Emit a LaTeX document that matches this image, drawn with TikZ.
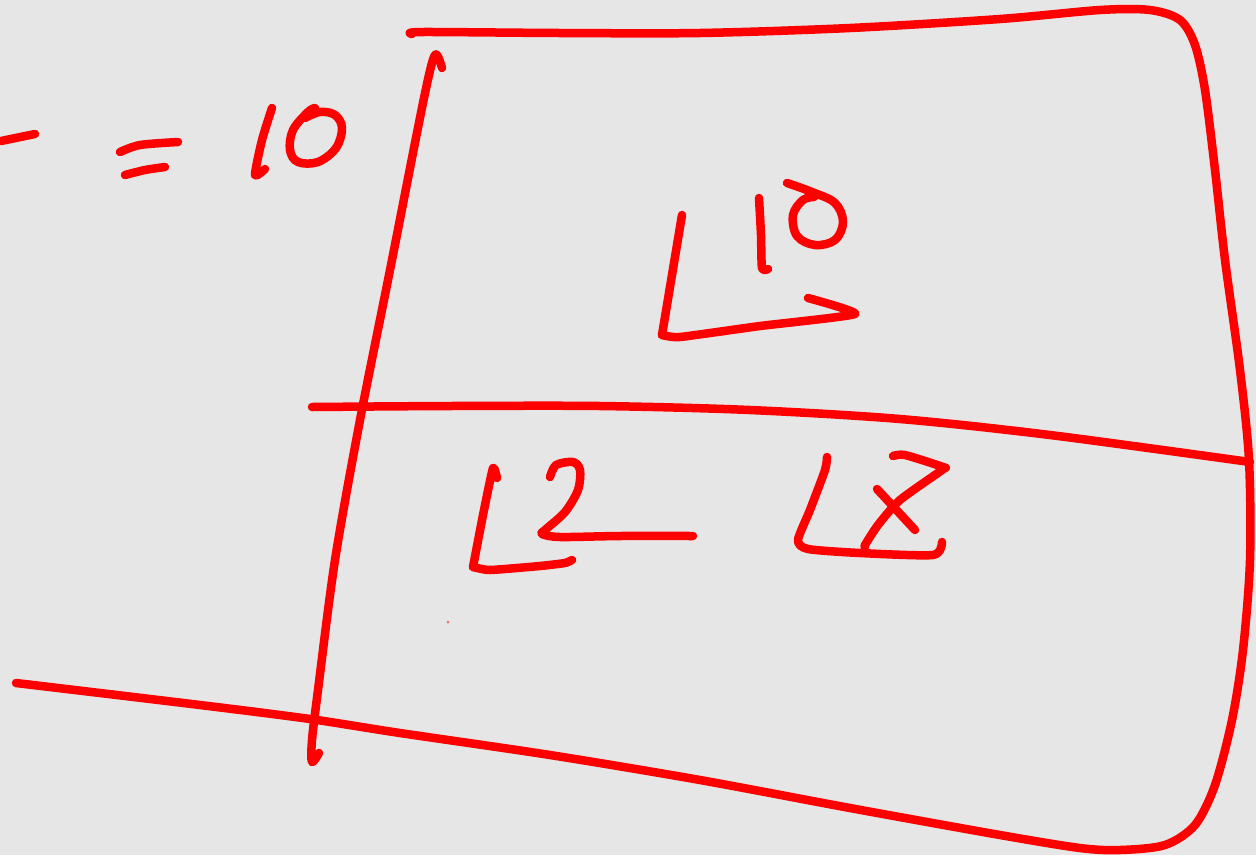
\documentclass[tikz,border=0pt]{standalone}
\definecolor{bg}{HTML}{E6E6E6}
\definecolor{ink}{HTML}{FF0000}
\tikzset{pen/.style={draw=ink, line width=8.5pt, line cap=round, line join=round}}
\begin{document}
\begin{tikzpicture}[x=1pt,y=-1pt]
\fill[bg] (0,0) rectangle (1256,855);
\useasboundingbox (0,0) rectangle (1256,855);
% outer loop
\draw[pen] plot[smooth, tension=0.5] coordinates {(412,34) (423,32) (560,33) (700,33) (850,28) (1000,19) (1100,10) (1150,10) (1180,20) (1195,45) (1205,90) (1215,170) (1225,260) (1240,370) (1249,460) (1250,560) (1243,650) (1232,720) (1215,785) (1195,825) (1165,845) (1120,850) (1080,848) (1000,835) (850,808) (700,780) (550,755) (400,733) (310,719) (200,705) (16,683)};
% vertical line
\draw[pen] plot[smooth, tension=0.5] coordinates {(442,68) (435,55) (424,98) (390,270) (360,420) (335,560) (318,690) (312,740) (312,762) (319,753)};
% middle line
\draw[pen] plot[smooth, tension=0.5] coordinates {(312,407) (450,406) (600,406) (750,410) (900,419) (1050,435) (1250,462)};
% left dash
\draw[pen] (1,141) -- (35,134);
% =
\draw[pen] plot[smooth] coordinates {(120,152) (140,145) (178,142)};
\draw[pen] plot[smooth] coordinates {(125,175) (145,170) (165,167)};
% 10 at left
\draw[pen] plot[smooth, tension=0.4] coordinates {(272,108) (262,140) (255,175) (265,169)};
\draw[pen] plot[smooth, tension=0.6] coordinates {(315,108) (308,112) (293,130) (290,150) (298,162) (318,162) (336,148) (342,128) (335,115) (320,112) (305,118)};
% L^10
\draw[pen] plot[smooth, tension=0.3] coordinates {(682,215) (672,275) (662,335)};
\draw[pen] plot[smooth, tension=0.3] coordinates {(662,335) (680,337) (760,326) (855,314) (808,298)};
\draw[pen] plot[smooth, tension=0.4] coordinates {(759,198) (761,235) (762,268) (768,269)};
\draw[pen] plot[smooth, tension=0.6] coordinates {(787,183) (812,192) (835,203) (843,222) (835,240) (815,245) (797,236) (793,215) (803,200) (814,197)};
% L2 ---
\draw[pen] plot[smooth, tension=0.3] coordinates {(497,478) (493,468) (483,515) (473,567)};
\draw[pen] plot[smooth, tension=0.3] coordinates {(473,567) (490,570) (540,566) (565,563) (572,560)};
\draw[pen] plot[smooth, tension=0.5] coordinates {(550,477) (556,465) (573,462) (580,470) (578,490) (565,512) (545,530) (542,534) (560,537) (620,536) (693,536)};
% L with crossed Z
\draw[pen] plot[smooth, tension=0.4] coordinates {(827,457) (825,470) (810,510) (798,540) (808,549) (860,553) (933,555) (942,542)};
\draw[pen] plot[smooth, tension=0.4] coordinates {(893,456) (905,455) (943,467) (942,470) (900,500) (878,525) (865,545) (865,547)};
\draw[pen] (877,489) -- (915,530);
% tiny dot
\fill[ink!60] (448,622) circle (1.5);
\end{tikzpicture}
\end{document}
